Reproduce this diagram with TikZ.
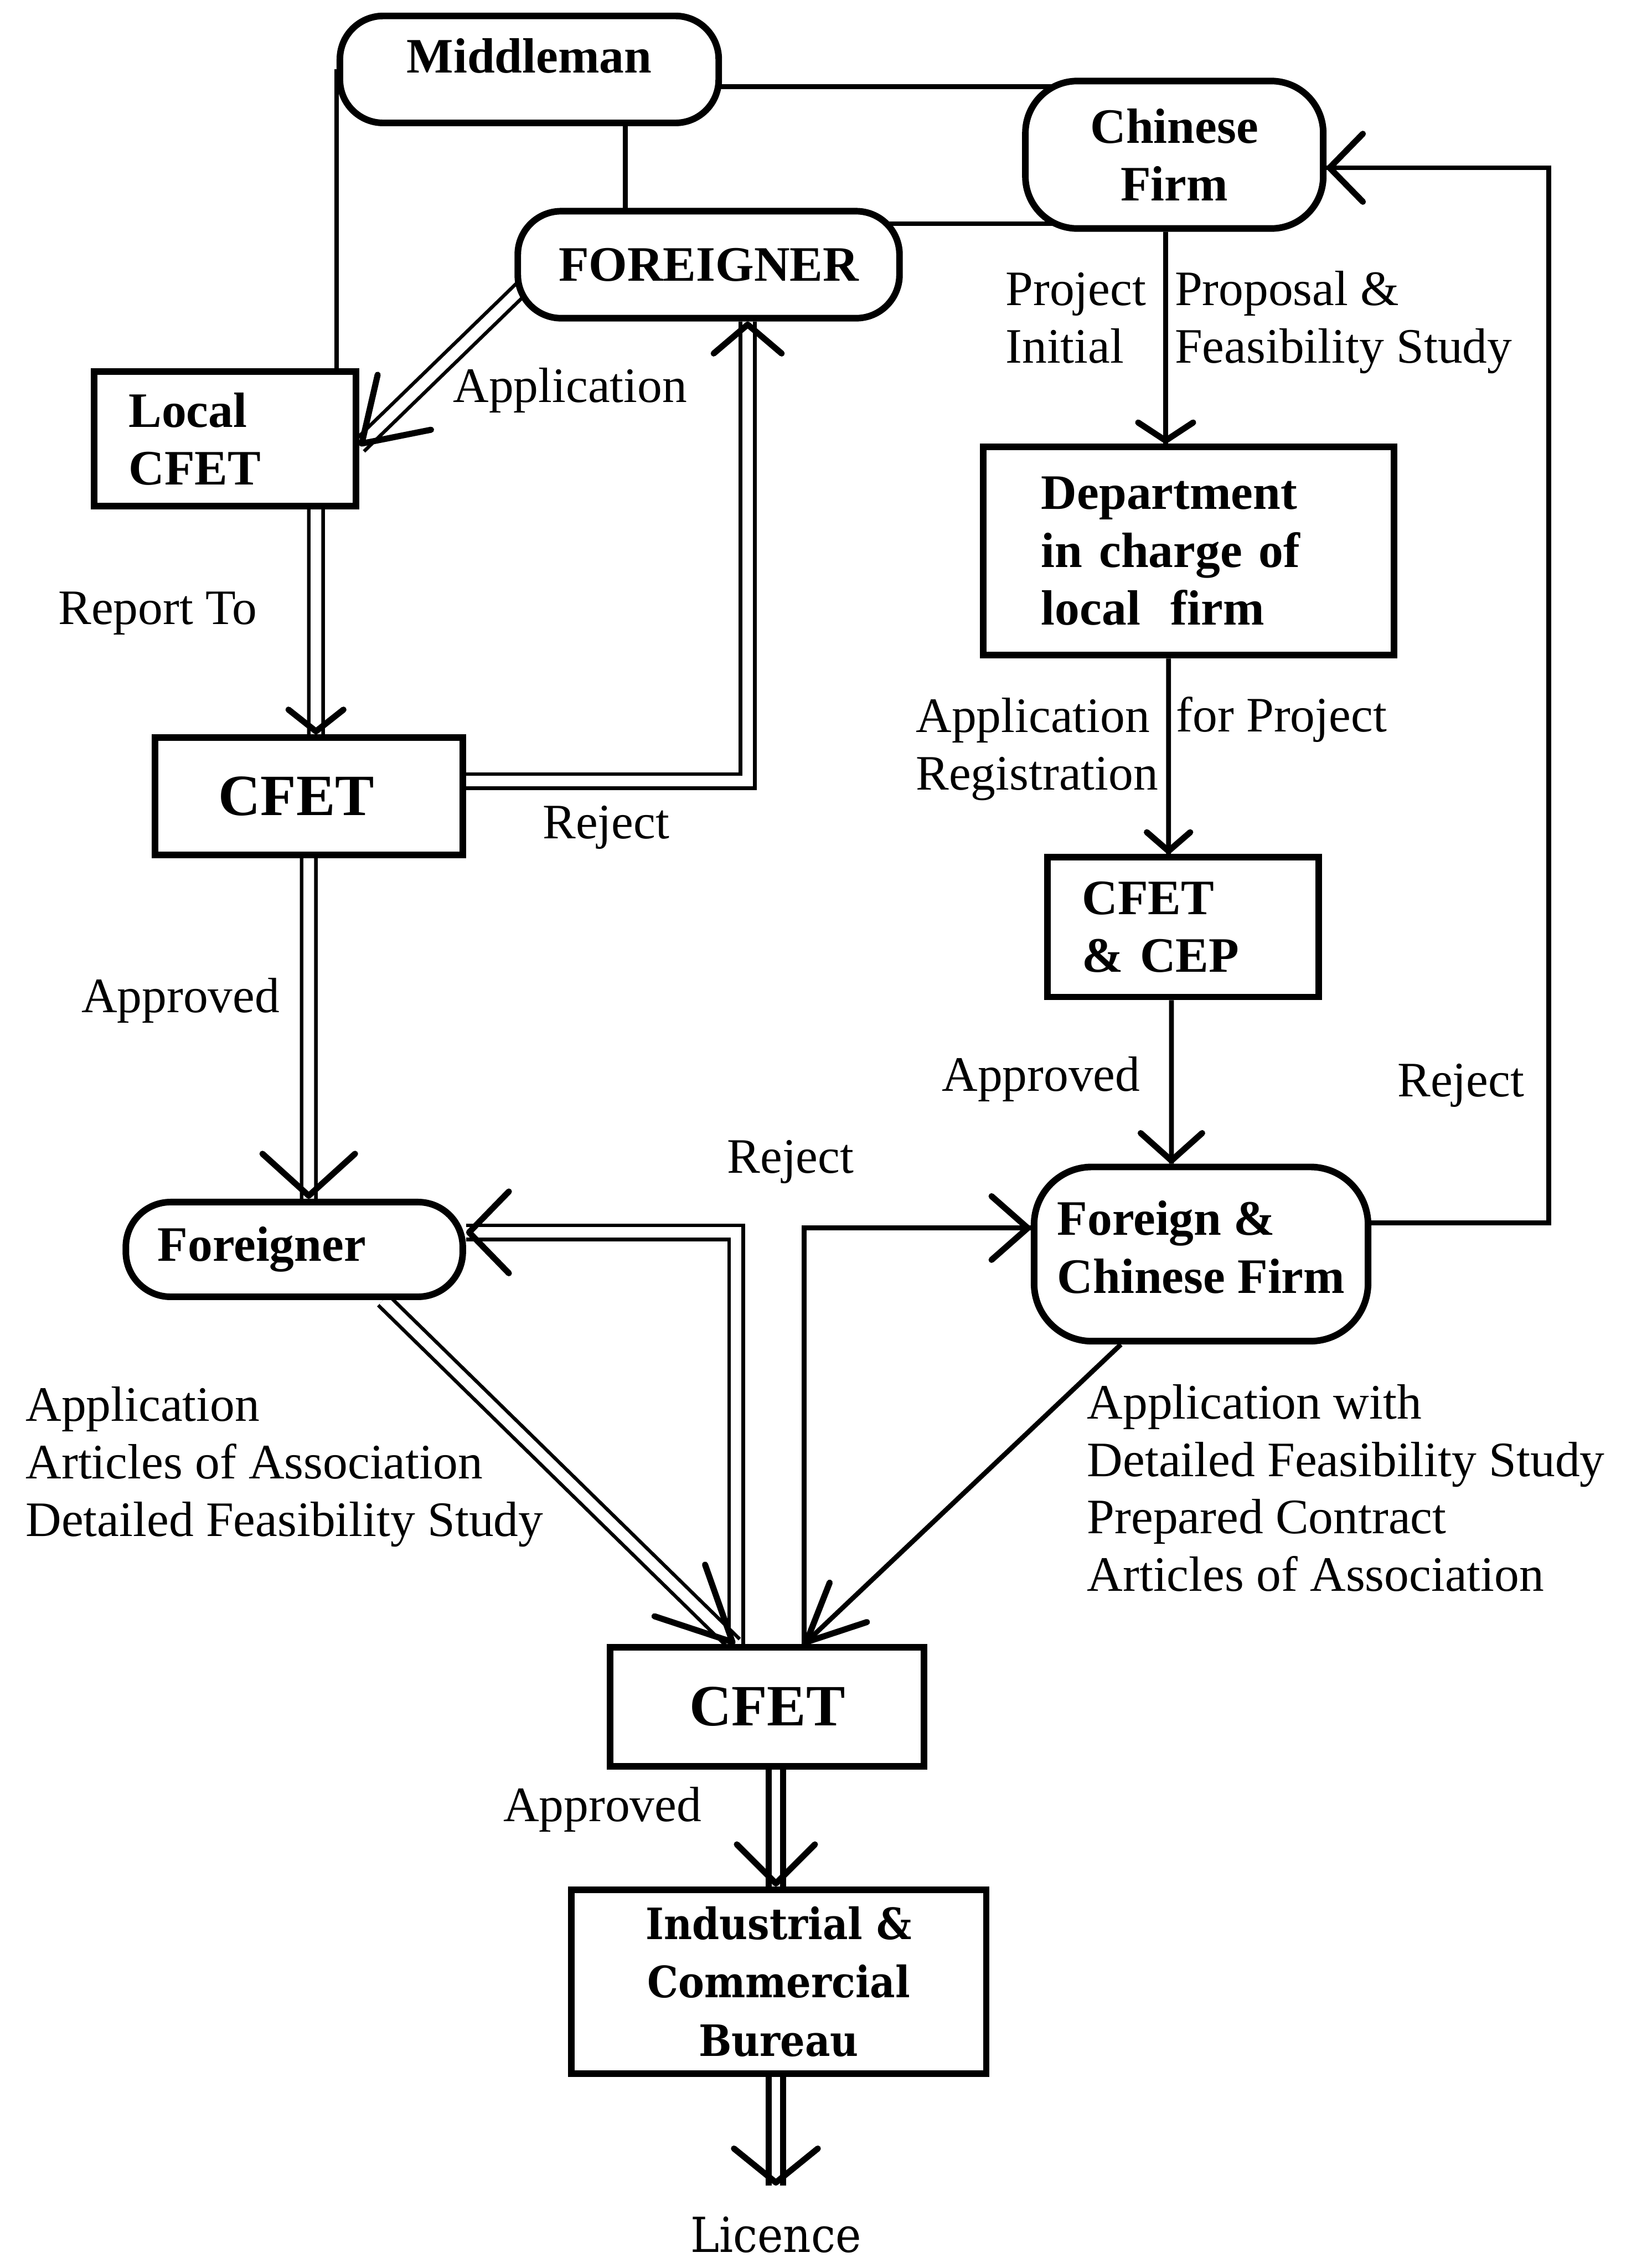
\documentclass[tikz,border=0pt]{standalone}
\usepackage{fontspec}
\setmainfont{Liberation Serif}
\newfontfamily\bureaufont{DejaVu Serif Condensed}
\usetikzlibrary{arrows.meta,decorations.markings}
\pgfdeclarelayer{bg}
\pgfsetlayers{bg,main}
\newcommand\boxfont{\fontsize{19.5pt}{22.8pt}\selectfont\bfseries}
\newcommand\bigboxfont{\fontsize{23pt}{26pt}\selectfont\bfseries}
\newcommand\edgefont{\fontsize{19.5pt}{22.6pt}\selectfont}
\newcommand\icbfont{\bureaufont\fontsize{17pt}{23pt}\selectfont\bfseries}
\newcommand\licfont{\bureaufont\fontsize{19pt}{22pt}\selectfont}

\tikzset{
  box/.style={draw, line width=2.6pt, fill=white, inner sep=0pt, font=\boxfont},
  pill/.style={box, rounded corners=#1},
  % labels are placed by the baseline of their last line
  lab/.style={inner sep=0pt, font=\edgefont, anchor=base west, align=left},
  link/.style={line width=1.9pt},
  dbl/.style={double, double distance=4.2pt, line width=1.4pt},
  dblheavy/.style={double, double distance=3.2pt, line width=2.4pt},
  head/.style 2 args={postaction={decorate, decoration={markings,
      mark=at position 1 with {\pgfsetinnerlinewidth{0pt}%
        \arrow[line width=2.4pt, black]{Straight Barb[round, length=#1, width=#2]}}}}},
}

\begin{document}
\begin{tikzpicture}[x=0.02cm, y=-0.02cm]
\useasboundingbox (0,0) rectangle (1142,1568);

% boxes
\node[pill=0.6cm, minimum width=5.24cm, minimum height=1.48cm,
      text height=8pt, text depth=5.3pt] (mid) at (366,48) {Middleman};
\node[pill=0.72cm, minimum width=4.12cm, minimum height=2.04cm, align=center]
      (cf) at (812,107) {Chinese\\Firm};
\node[pill=0.6cm, minimum width=5.28cm, minimum height=1.48cm] (fo) at (490,183) {FOREIGNER};
\node[box, minimum width=3.62cm, minimum height=1.86cm, text width=2.66cm,
      inner xsep=0.48cm, align=left] (lcfet) at (155.5,303.5) {Local\\CFET};
\node[box, font=\bigboxfont, minimum width=4.26cm, minimum height=1.62cm,
      text width=2.5cm, inner xsep=0.88cm, align=left] (cfetA) at (213.5,550.5) {CFET};
\node[box, minimum width=5.68cm, minimum height=2.88cm, text width=4.08cm,
      inner xsep=0.8cm, align=left] (dept) at (822,381)
      {Department\\in charge of\\local\hspace{12pt}firm};
\node[box, minimum width=3.75cm, minimum height=1.93cm, text width=2.79cm,
      inner xsep=0.48cm, align=left] (cfetcep) at (818,641) {CFET\\\& CEP};
\node[pill=0.62cm, minimum width=4.66cm, minimum height=1.31cm, text width=3.78cm,
      inner xsep=0.44cm, align=left] (frn) at (203.5,863.8) {Foreigner};
\node[pill=0.8cm, minimum width=4.62cm, minimum height=2.41cm, align=left,
      text depth=5.7pt] (fcf) at (830.5,867) {Foreign \&\\Chinese Firm};
\node[box, font=\bigboxfont, minimum width=4.34cm, minimum height=1.64cm]
      (cfetB) at (530.5,1180) {CFET};
\node[box, font=\icbfont, minimum width=5.74cm, minimum height=2.54cm, align=center]
      (icb) at (538.5,1370) {Industrial \&\\Commercial\\Bureau};
\node[font=\licfont, anchor=north, inner xsep=0pt, inner ysep=0.42cm]
      (lic) at (536.5,1511) {Licence};

% connector labels
\node[lab] (lApp) at (313,278) {Application};
\node[lab] (lRep) at (40,431.5) {Report To};
\node[lab] (lRejA) at (375,579.7) {Reject};
\node[lab] (lApprA) at (56,700) {Approved};
\node[lab] (lDocsA) at (17.5,1062)
      {Application\\Articles of Association\\Detailed Feasibility Study};
\node[lab] (lRejB) at (502.5,811) {Reject};
\node[lab] (lProj) at (695,251) {Project\\Initial};
\node[lab] (lProp) at (812,251) {Proposal \&\\Feasibility Study};
\node[lab] (lAppReg) at (633,546) {Application\\Registration};
\node[lab] (lFor) at (813,506) {for Project};
\node[lab] (lApprB) at (651,754.5) {Approved};
\node[lab] (lRejC) at (966,758) {Reject};
\node[lab] (lDocsB) at (751.4,1100)
      {Application with\\Detailed Feasibility Study\\Prepared Contract\\Articles of Association};
\node[lab] (lApprC) at (347.7,1259.4) {Approved};

% connectors, kept behind the boxes
\begin{pgfonlayer}{bg}
\fill[white] (0,0) rectangle (1142,1568);
\coordinate (mA) at ([yshift=-0.24cm]mid.center);
\coordinate (mB) at ([xshift=1.33cm]mid.center);
\coordinate (fB) at ([yshift=0.566cm]fo.center);
\coordinate (rr) at (1071,480);

\draw[link] (mid.west) -- (mid.west |- lcfet.north);
\draw[link] (mA) -- (mA -| cf.center);
\draw[link] (mB) -- (mB |- fo.center);
\draw[link] (fB) -- (fB -| cf.center);

% foreigner's route
\draw[dbl, head={0.82cm}{1.06cm}] ([xshift=0.226cm, yshift=-0.204cm]fo.west)
      -- ([yshift=-0.1cm]lcfet.east);
\draw[dbl, head={0.3cm}{0.76cm}] ([xshift=1.26cm]lcfet.south) -- ([xshift=0.1cm]cfetA.north);
\draw[dbl, head={0.4cm}{0.94cm}] ([yshift=0.21cm]cfetA.east) -| ([xshift=0.54cm]fo.south);
\draw[dbl, head={0.58cm}{1.28cm}] (cfetA.south) -- ([xshift=0.2cm]frn.north);
\draw[dbl, head={0.55cm}{1.13cm}] ([xshift=-0.43cm]cfetB.north) |- ([yshift=0.236cm]frn.east);
\draw[dbl, head={1.02cm}{1.0cm}] ([xshift=1.23cm]frn.south) -- ([xshift=-0.45cm]cfetB.north);

% chinese firm's route
\draw[link, head={0.25cm}{0.76cm}] ([xshift=-0.12cm]cf.south) -- ([xshift=-0.32cm]dept.north);
\draw[link, head={0.26cm}{0.6cm}] ([xshift=-0.28cm]dept.south) -- ([xshift=-0.2cm]cfetcep.north);
\draw[link, head={0.38cm}{0.85cm}] ([xshift=-0.16cm]cfetcep.south) -- ([xshift=-0.41cm]fcf.north);
\draw[link, head={0.46cm}{0.94cm}] ([yshift=0.43cm]fcf.east) -| (rr) |- ([yshift=-0.18cm]cf.east);
\draw[link, head={0.5cm}{0.88cm}] ([xshift=0.51cm]cfetB.north) |- ([yshift=0.36cm]fcf.west);
\draw[link, head={0.8cm}{0.75cm}] ([xshift=-1.11cm]fcf.south) -- ([xshift=0.51cm]cfetB.north);

% final steps
\draw[dblheavy, head={0.54cm}{1.08cm}] ([xshift=0.12cm]cfetB.south) -- ([xshift=-0.04cm]icb.north);
\draw[dblheavy, head={0.47cm}{1.16cm}] ([xshift=-0.04cm]icb.south) -- (lic.north);
\end{pgfonlayer}
\end{tikzpicture}
\end{document}
